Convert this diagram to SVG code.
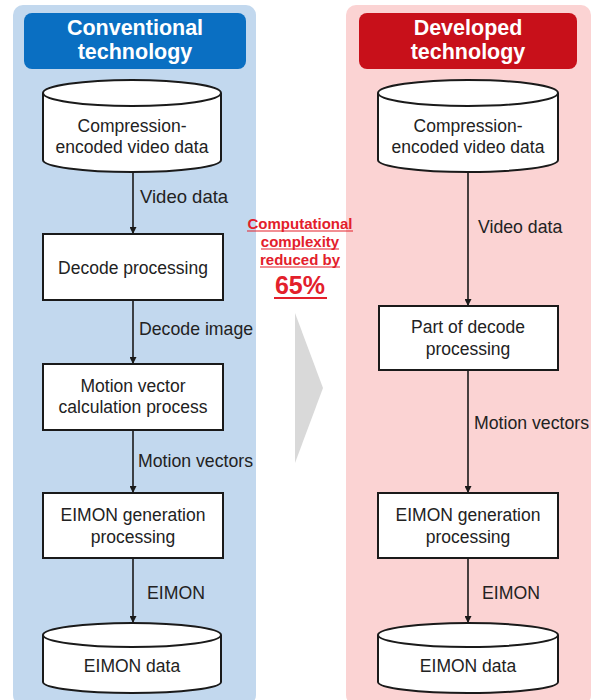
<svg xmlns="http://www.w3.org/2000/svg" width="596" height="700" viewBox="0 0 596 700">
<defs>
<marker id="ah" viewBox="0 0 10 10" refX="10" refY="5" markerWidth="7" markerHeight="7" markerUnits="userSpaceOnUse" orient="auto">
<path d="M0,0 L10,5 L0,10 z" fill="#1a1a1a"/>
</marker>
<style>
.t{font-family:"Liberation Sans",Arial,sans-serif;font-size:17.5px;fill:#222;text-anchor:middle}
.l{font-family:"Liberation Sans",Arial,sans-serif;font-size:17.7px;fill:#222}
.h{font-family:"Liberation Sans",Arial,sans-serif;font-size:21.5px;font-weight:bold;fill:#fff;text-anchor:middle}
.box{fill:#fff;stroke:#1a1a1a;stroke-width:2}
.c{fill:none;stroke:#1a1a1a;stroke-width:1.6;marker-end:url(#ah)}
.r{font-family:"Liberation Sans",Arial,sans-serif;font-size:15px;font-weight:bold;fill:#e3202b;text-anchor:middle}
</style>
</defs>
<rect width="596" height="700" fill="#fff"/>
<g id="panel-left">
<rect x="13" y="5" width="243" height="700" rx="10" fill="#c2d8ee"/>
<rect x="24" y="13" width="222" height="56" rx="8" fill="#0a6fc2"/>
<text class="h" x="135" y="35">Conventional</text>
<text class="h" x="135" y="59">technology</text>
</g>
<g id="panel-right">
<rect x="346" y="5" width="245" height="700" rx="10" fill="#fbd3d3"/>
<rect x="359" y="13" width="218" height="56" rx="8" fill="#c8101a"/>
<text class="h" x="468" y="35">Developed</text>
<text class="h" x="468" y="59">technology</text>
</g>
<g id="reduction">
<polygon points="295,313 323,388 295,463" fill="#d9d9d9"/>
<text class="r" x="300" y="229">Computational</text>
<text class="r" x="300" y="247">complexity</text>
<text class="r" x="300" y="265">reduced by</text>
<text class="r" x="300" y="294" style="font-size:25px">65%</text>
<g stroke="#e3202b" stroke-width="1.2">
<line x1="247" y1="231" x2="353" y2="231"/>
<line x1="261" y1="249" x2="339" y2="249"/>
<line x1="260" y1="267" x2="340" y2="267"/>
<line x1="274" y1="298" x2="327" y2="298" stroke-width="1.8"/>
</g>
</g>
<g id="connectors">
<line class="c" x1="133" y1="172" x2="133" y2="234"/>
<line class="c" x1="133" y1="300" x2="133" y2="364"/>
<line class="c" x1="133" y1="430" x2="133" y2="493"/>
<line class="c" x1="133" y1="558" x2="133" y2="623"/>
<line class="c" x1="468" y1="172" x2="468" y2="306"/>
<line class="c" x1="468" y1="370" x2="468" y2="493"/>
<line class="c" x1="468" y1="558" x2="468" y2="623"/>
<text class="l" x="140" y="203" style="font-size:18.5px">Video data</text>
<text class="l" x="139" y="335">Decode image</text>
<text class="l" x="138" y="467">Motion vectors</text>
<text class="l" x="147" y="599">EIMON</text>
<text class="l" x="478" y="233">Video data</text>
<text class="l" x="474" y="429">Motion vectors</text>
<text class="l" x="482" y="599">EIMON</text>
</g>
<g id="left-src">
<path class="box" d="M43,93 V160 A89,12 0 0 0 221,160 V93"/>
<ellipse class="box" cx="132" cy="93" rx="89" ry="13"/>
<text class="t" x="132" y="132">Compression-</text>
<text class="t" x="132" y="153">encoded video data</text>
</g>
<g id="left-decode">
<rect class="box" x="43" y="234" width="180" height="66"/>
<text class="t" x="133" y="274">Decode processing</text>
</g>
<g id="left-mv">
<rect class="box" x="43" y="364" width="180" height="66"/>
<text class="t" x="133" y="392">Motion vector</text>
<text class="t" x="133" y="413">calculation process</text>
</g>
<g id="left-eimon-gen">
<rect class="box" x="43" y="493" width="180" height="65"/>
<text class="t" x="133" y="521">EIMON generation</text>
<text class="t" x="133" y="543">processing</text>
</g>
<g id="left-eimon-data">
<path class="box" d="M43,635 V682 A89,11 0 0 0 221,682 V635"/>
<ellipse class="box" cx="132" cy="635" rx="89" ry="12"/>
<text class="t" x="132" y="672">EIMON data</text>
</g>
<g id="right-src">
<path class="box" d="M378,93 V160 A90,12 0 0 0 558,160 V93"/>
<ellipse class="box" cx="468" cy="93" rx="90" ry="13"/>
<text class="t" x="468" y="132">Compression-</text>
<text class="t" x="468" y="153">encoded video data</text>
</g>
<g id="right-decode">
<rect class="box" x="379" y="306" width="179" height="64"/>
<text class="t" x="468" y="333">Part of decode</text>
<text class="t" x="468" y="355">processing</text>
</g>
<g id="right-eimon-gen">
<rect class="box" x="378" y="493" width="180" height="65"/>
<text class="t" x="468" y="521">EIMON generation</text>
<text class="t" x="468" y="543">processing</text>
</g>
<g id="right-eimon-data">
<path class="box" d="M378,635 V682 A90,11 0 0 0 558,682 V635"/>
<ellipse class="box" cx="468" cy="635" rx="90" ry="12"/>
<text class="t" x="468" y="672">EIMON data</text>
</g>
</svg>
